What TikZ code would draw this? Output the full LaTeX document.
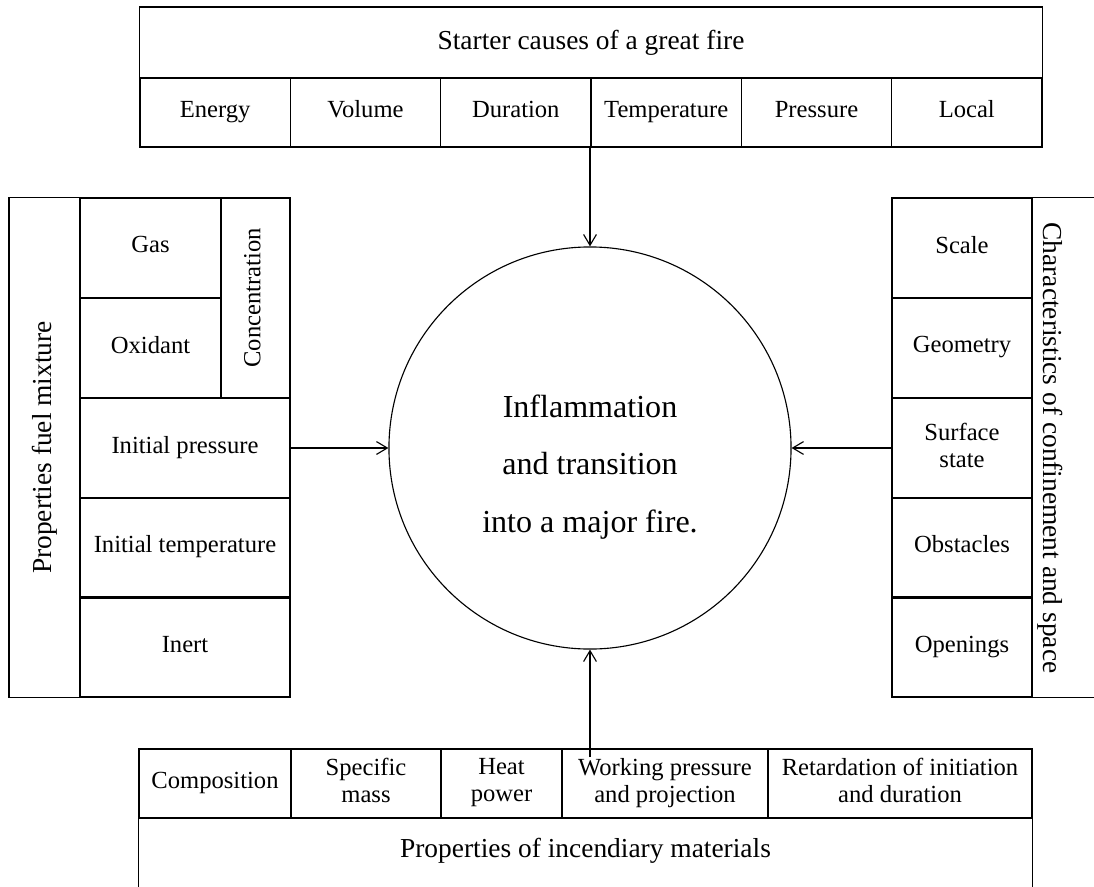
\documentclass[tikz,border=0pt]{standalone}
\usepackage{fontspec}
\setmainfont{Liberation Serif}
\usetikzlibrary{arrows.meta}
\newcommand\cellstrut{\rule[-4.5pt]{0pt}{14.5pt}}
\tikzset{
  cell/.style={draw, line width=0.8pt, inner sep=0pt, align=center, font=\fontsize{17.5}{19.2}\selectfont,
    execute at begin node=\cellstrut, execute at end node=\cellstrut},
  head/.style={draw, line width=0.8pt, inner sep=0pt, align=center, font=\fontsize{19.5}{22}\selectfont},
  headtext/.style={inner sep=0pt, align=center, font=\fontsize{19.5}{22}\selectfont},
  core/.style={draw, circle, line width=0.8pt, minimum size=10.05cm, inner sep=0pt},
  coretext/.style={inner sep=0pt, align=center, font=\fontsize{22.8}{41}\selectfont},
  flow/.style={line width=0.8pt, -{Straight Barb[length=0.27cm, width=0.32cm]}},
}

\begin{document}
\begin{tikzpicture}[x=0.025cm, y=-0.025cm]
\useasboundingbox (0,0) rectangle (1094,887);
\clip (0,0) rectangle (1094,887);
% starter causes
\node[head, minimum width=22.55cm, minimum height=1.775cm] (starter) at (591,42.5) {Starter causes of a great fire};
\node[cell, minimum width=3.758cm, minimum height=1.725cm] (energy) at (215.2,112.5) {Energy};
\node[cell, minimum width=3.758cm, minimum height=1.725cm] (volume) at (365.5,112.5) {Volume};
\node[cell, minimum width=3.758cm, minimum height=1.725cm] (duration) at (515.8,112.5) {Duration};
\node[cell, minimum width=3.758cm, minimum height=1.725cm] (temp) at (666.2,112.5) {Temperature};
\node[cell, minimum width=3.758cm, minimum height=1.725cm] (pres) at (816.5,112.5) {Pressure};
\node[cell, minimum width=3.758cm, minimum height=1.725cm] (local) at (966.8,112.5) {Local};
% fuel mixture
\node[head, rotate=90, minimum width=12.475cm, minimum height=1.775cm] (fuel) at (44.5,447.5) {Properties fuel mixture};
\node[cell, minimum width=3.525cm, minimum height=2.5cm] (gas) at (150.5,248) {Gas};
\node[cell, minimum width=3.525cm, minimum height=2.5cm] (oxid) at (150.5,348) {Oxidant};
\node[cell, rotate=90, minimum width=5cm, minimum height=1.725cm] (conc) at (255.5,298) {Concentration};
\node[cell, minimum width=5.25cm, minimum height=2.5cm] (ipres) at (185,448) {Initial pressure};
\node[cell, minimum width=5.25cm, minimum height=2.475cm] (itemp) at (185,547.5) {Initial temperature};
\node[cell, minimum width=5.25cm, minimum height=2.475cm] (inert) at (185,647.5) {Inert};
% confinement
\node[cell, minimum width=3.5cm, minimum height=2.5cm] (scale) at (962,248) {Scale};
\node[cell, minimum width=3.5cm, minimum height=2.5cm] (geom) at (962,348) {Geometry};
\node[cell, minimum width=3.5cm, minimum height=2.5cm] (surf) at (962,448) {Surface\\state};
\node[cell, minimum width=3.5cm, minimum height=2.475cm] (obst) at (962,547.5) {Obstacles};
\node[cell, minimum width=3.5cm, minimum height=2.475cm] (open) at (962,647.5) {Openings};
\node[head, minimum width=2cm, minimum height=12.475cm] (conf) at (1072,447.5) {};
\node[headtext, rotate=-90] (conftext) at (1050,448) {Characteristics of confinement and space};
% incendiary materials
\node[cell, minimum width=3.8cm, minimum height=1.725cm] (comp) at (215,783.5) {Composition};
\node[cell, minimum width=3.75cm, minimum height=1.725cm] (mass) at (366,783.5) {Specific\\mass};
\node[cell, minimum width=3.025cm, minimum height=1.725cm] (heat) at (501.5,783.5) {Heat\\power};
\node[cell, minimum width=5.15cm, minimum height=1.725cm] (work) at (665,783.5) {Working pressure\\and projection};
\node[cell, minimum width=6.6cm, minimum height=1.725cm] (retard) at (900,783.5) {Retardation of initiation\\and duration};
\node[head, minimum width=22.325cm, minimum height=2.55cm] (incend) at (585.5,869) {};
\node[headtext] (incendtext) at (585.5,851) {Properties of incendiary materials};
% centre
\node[core] (fire) at (590,448) {};
\node[coretext] (firetext) at (590,467) {Inflammation\\and transition\\into a major fire.};
\coordinate (topsrc) at (590,147);
\coordinate (botsrc) at (590,757);
\draw[flow] (topsrc) -- (fire.north);
\draw[flow] (ipres.east) -- (fire.west);
\draw[flow] (surf.west) -- (fire.east);
\draw[flow] (botsrc) -- (fire.south);
\end{tikzpicture}
\end{document}
